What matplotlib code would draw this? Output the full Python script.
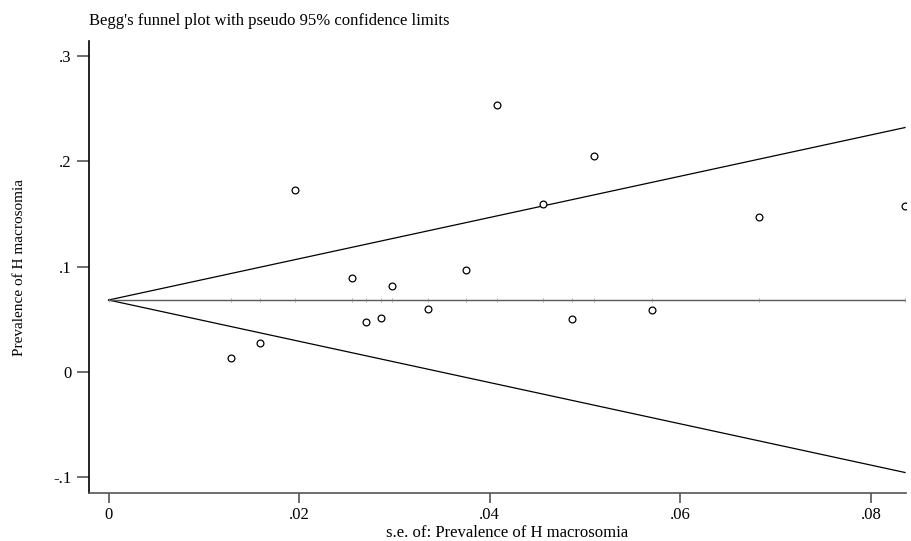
import numpy as np
import matplotlib
matplotlib.use("Agg")
import matplotlib.pyplot as plt

plt.rcParams['font.family'] = ['Liberation Serif', 'DejaVu Serif']

# standard errors and prevalence estimates
se = [0.01957, 0.04562, 0.02552, 0.03751, 0.02975, 0.03356, 0.02705, 0.02863,
      0.01593, 0.01282, 0.04077, 0.05091, 0.06829, 0.08358, 0.04867, 0.05706]
prev = [0.1728, 0.1593, 0.0890, 0.0969, 0.0817, 0.0598, 0.0478, 0.0510,
        0.0278, 0.0130, 0.2538, 0.2054, 0.1475, 0.1579, 0.0503, 0.0592]
pooled = 0.0684

xticks = [0, 0.02, 0.04, 0.06, 0.08]
xticklabels = ['0', '.02', '.04', '.06', '.08']
yticks = [-0.1, 0, 0.1, 0.2, 0.3]
yticklabels = ['-.1', '0', '.1', '.2', '.3']

se = np.array(se)
prev = np.array(prev)
se_max = se.max()

fig = plt.figure(figsize=(9.12, 5.41), dpi=100)
ax = fig.add_axes([0.0976, 0.0887, 0.8958, 0.8353])

# pseudo 95% confidence limits
ax.plot([0, se_max], [pooled, pooled + 1.96 * se_max], color='black', lw=0.9)
ax.plot([0, se_max], [pooled, pooled - 1.96 * se_max], color='black', lw=0.9)
# pooled line, with faint marks at each study
xs = np.sort(np.concatenate([[0], se]))
ax.plot(xs, np.full_like(xs, pooled), color='#5a5a5a', lw=1.0,
        marker='|', markersize=2.5, markeredgewidth=0.5, markeredgecolor='#888888')

ax.scatter(se, prev, s=24, facecolors='white', edgecolors='black', linewidths=0.9, zorder=3)

ax.set_xlim(-0.00205, 0.08368)
ax.set_ylim(-0.1149, 0.3143)
ax.set_xticks(xticks)
ax.set_xticklabels(xticklabels)
ax.set_yticks(yticks)
ax.set_yticklabels(yticklabels)
ax.tick_params(axis='both', direction='out', labelsize=12, color='#555555', width=1.2)
ax.tick_params(axis='x', length=7, pad=3)
ax.tick_params(axis='y', length=8.5, pad=4)

for s in ['top', 'right']:
    ax.spines[s].set_visible(False)
ax.spines['left'].set_color('black')
ax.spines['bottom'].set_color('#555555')
ax.spines['left'].set_linewidth(1.2)
ax.spines['bottom'].set_linewidth(1.2)

ax.set_xlabel('s.e. of: Prevalence of H macrosomia', fontsize=12)
ax.xaxis.set_label_coords(0.5116, -0.071)
ax.set_ylabel('Prevalence of H macrosomia', fontsize=11)
ax.yaxis.set_label_coords(-0.077, 0.5)
fig.text(0.0976, 0.962, "Begg's funnel plot with pseudo 95% confidence limits",
         fontsize=12, ha='left', va='center')

fig.savefig('out.png', dpi=100, facecolor='white')
